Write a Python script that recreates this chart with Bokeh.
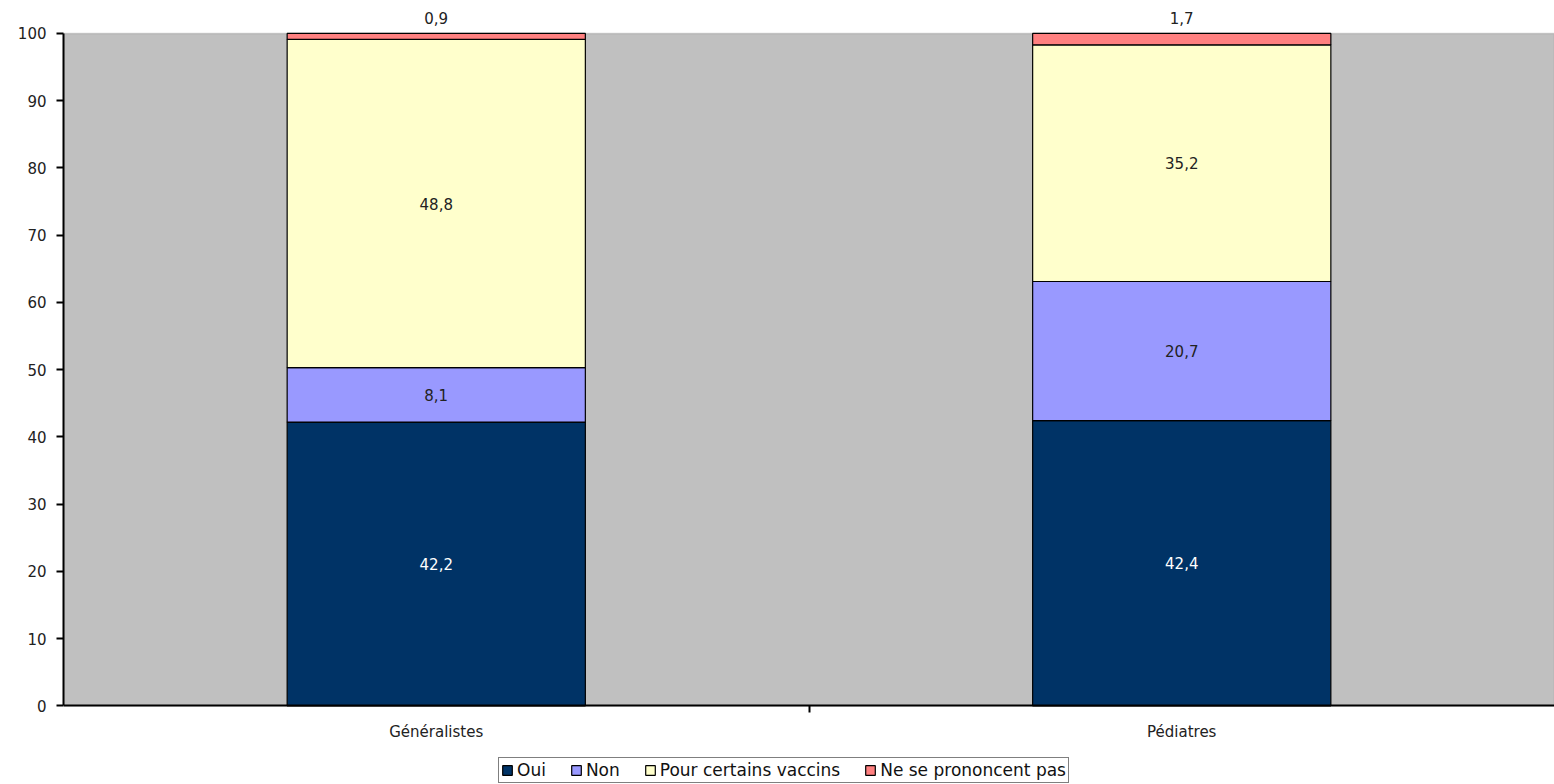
from bokeh.plotting import figure
from bokeh.models import (ColumnDataSource, FixedTicker, Legend, LegendItem, Range1d,
                          LabelSet, BoxAnnotation, LinearAxis)
from bokeh.core.properties import value
from bokeh.embed import file_html
from bokeh.resources import INLINE

categories = ["Généralistes", "Pédiatres"]
series = ["Oui", "Non", "Pour certains vaccins", "Ne se prononcent pas"]
oui = [42.2, 42.4]
non = [8.1, 20.7]
certains = [48.8, 35.2]
nsp = [0.9, 1.7]
colors = ["#003366", "#9999ff", "#ffffcc", "#ff8080"]
y_ticks = [0, 10, 20, 30, 40, 50, 60, 70, 80, 90, 100]

FONT = "DejaVu Sans"

xpos = [i + 0.5 for i in range(len(categories))]
data = dict(x=xpos, oui=oui, non=non, certains=certains, nsp=nsp)
source = ColumnDataSource(data)

p = figure(frame_width=1491, frame_height=778, output_backend="svg", toolbar_location=None,
           x_range=Range1d(0, len(categories)), y_range=Range1d(-11.7, 104),
           x_axis_location=None,
           min_border_left=63, min_border_right=0, min_border_top=6, min_border_bottom=0)
p.background_fill_color = "white"
p.border_fill_color = "white"
p.outline_line_color = None
p.grid.visible = False

# grey plot area (0..100)
p.add_layout(BoxAnnotation(bottom=0, top=100, fill_color="#c0c0c0", fill_alpha=1,
                           line_color="#808080", line_width=1.5, level="underlay"))

rs = p.vbar_stack(["oui", "non", "certains", "nsp"], x="x", width=0.4, source=source,
                  fill_color=colors, line_color="black", line_width=1.2)

fields = [oui, non, certains, nsp]
lx, ly, lt, lc, lo = [], [], [], [], []
for ci in range(len(categories)):
    base = 0.0
    for si, vals in enumerate(fields):
        v = vals[ci]
        lx.append(xpos[ci])
        if si == len(fields) - 1:
            ly.append(base + v); lo.append(15)
        else:
            ly.append(base + v / 2); lo.append(0)
        lt.append(f"{v:.1f}".replace(".", ","))
        lc.append("white" if si == 0 else "#222222")
        base += v
lsrc = ColumnDataSource(dict(x=lx, y=ly, t=lt, c=lc, o=lo))
p.add_layout(LabelSet(x="x", y="y", y_offset="o", text="t", source=lsrc, text_align="center",
                      text_baseline="middle", text_font=value(FONT),
                      text_font_size="15px", text_color="c"))

xaxis = LinearAxis(fixed_location=0)
xaxis.ticker = FixedTicker(ticks=xpos, minor_ticks=[1])
xaxis.major_label_overrides = {x: c for x, c in zip(xpos, categories)}
xaxis.major_tick_out = 0
xaxis.major_tick_in = 0
xaxis.minor_tick_out = 7
xaxis.minor_tick_in = 0
xaxis.minor_tick_line_color = "black"
xaxis.minor_tick_line_width = 2
xaxis.axis_line_color = "black"
xaxis.axis_line_width = 2
xaxis.major_label_text_font = FONT
xaxis.major_label_text_font_size = "15px"
xaxis.major_label_text_color = "#222222"
xaxis.major_label_standoff = 10
p.add_layout(xaxis, "below")

p.yaxis.ticker = FixedTicker(ticks=y_ticks)
p.yaxis.bounds = (0, 100)
p.yaxis.minor_tick_line_color = None
p.yaxis.major_tick_out = 7
p.yaxis.major_tick_in = 0
p.yaxis.major_tick_line_width = 2
p.yaxis.axis_line_width = 2
p.yaxis.axis_line_color = "black"
p.yaxis.major_label_text_font = FONT
p.yaxis.major_label_text_font_size = "15px"
p.yaxis.major_label_text_color = "#222222"
p.yaxis.major_label_standoff = 10

items = [LegendItem(label=s, renderers=[r]) for s, r in zip(series, rs)]
legend = Legend(items=items, orientation="horizontal", location=(435, 1),
                label_text_font=FONT, label_text_font_size="17px",
                label_text_color="#111111", glyph_width=12, glyph_height=12,
                label_standoff=4, spacing=24, padding=2, margin=0,
                border_line_color="black", border_line_width=1.5,
                label_height=16, label_text_line_height=1.0,
                background_fill_color="white", background_fill_alpha=1)
p.add_layout(legend, "center")

open("out.html", "w").write(file_html(p, INLINE))
